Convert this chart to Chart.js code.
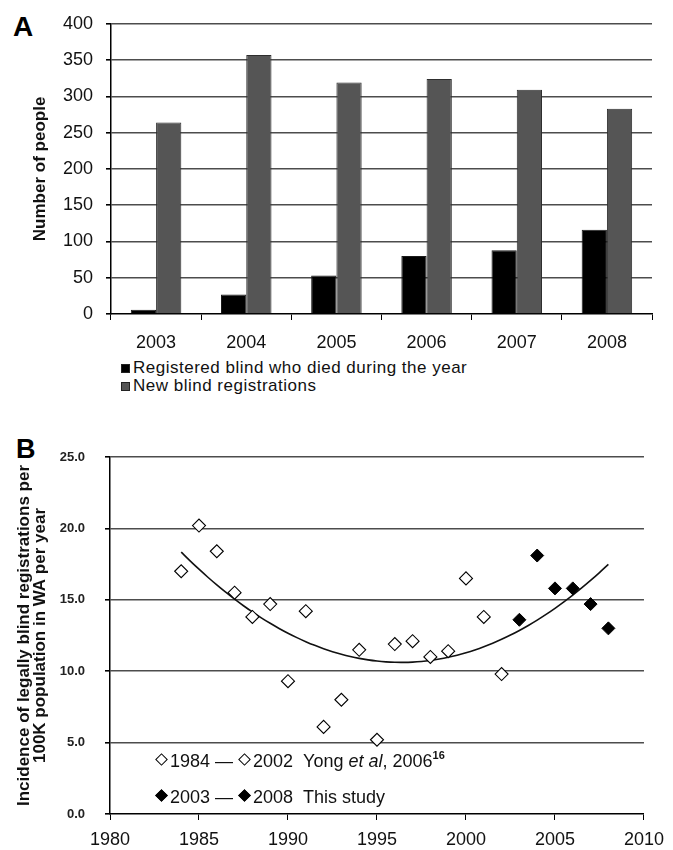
<!DOCTYPE html>
<html>
<head>
<meta charset="utf-8">
<script src="https://cdn.jsdelivr.net/npm/chart.js@4.4.1/dist/chart.umd.min.js"></script>
<style>
  body { margin: 0; background: #fff; width: 673px; height: 850px; position: relative; overflow: hidden;
         font-family: "Liberation Sans", Arial, sans-serif; color: #111; }
  .panel-label { position: absolute; font-weight: bold; color: #000; line-height: 1; }
  #wrapA { position: absolute; left: 0; top: 0; width: 673px; height: 355px; }
  #wrapB { position: absolute; left: 0; top: 420px; width: 673px; height: 430px; }
  #legendA { position: absolute; left: 121px; top: 359px; font-size: 17px; letter-spacing: 0.5px; }
  #legendA .row { height: 17.6px; line-height: 17.6px; white-space: nowrap; }
  #legendA .box { display: inline-block; width: 7px; height: 7px; margin-right: 3px; border: 1px solid #222; vertical-align: baseline; }
  .legendB { position: absolute; left: 155px; font-family: "Liberation Sans", Arial, sans-serif;
             font-size: 18px; line-height: 20px; white-space: nowrap; }
  .dia { display: inline-block; width: 7px; height: 7px; border: 1px solid #000; transform: rotate(45deg);
         margin: 0 4px 0 2px; vertical-align: 3px; }
  .dia.open { background: #fff; }
  .dia.fill { background: #000; }
  .gap { display: inline-block; width: 10px; }
  .legendB sup { font-size: 11px; font-weight: bold; vertical-align: 8px; line-height: 0; }
</style>
</head>
<body>
<div class="panel-label" style="left:13px; top:13px; font-size:28px;">A</div>
<div class="panel-label" style="left:16px; top:436px; font-size:27px;">B</div>

<div id="wrapA"><canvas id="chartA" width="673" height="355"></canvas></div>
<div id="legendA"></div>

<div id="wrapB"><canvas id="chartB" width="673" height="430"></canvas></div>
<div class="legendB" style="top:751px;">
  <span class="dia open"></span>1984 — <span class="dia open"></span>2002<span class="gap"></span>Yong <i>et al</i>, 2006<sup>16</sup>
</div>
<div class="legendB" style="top:787px;">
  <span class="dia fill"></span>2003 — <span class="dia fill"></span>2008<span class="gap"></span>This study
</div>

<script>
// ---- Panel A data ----
const years = ["2003", "2004", "2005", "2006", "2007", "2008"];
const diedBlind = [6, 27, 53, 80, 88, 116];
const newRegistrations = [264, 357, 319, 324, 309, 283];

// ---- Panel B data ----
const yongYears = [1984, 1985, 1986, 1987, 1988, 1989, 1990, 1991, 1992, 1993,
                   1994, 1995, 1996, 1997, 1998, 1999, 2000, 2001, 2002];
const yongRates = [17.0, 20.2, 18.4, 15.5, 13.8, 14.7, 9.3, 14.2, 6.1, 8.0,
                   11.5, 5.2, 11.9, 12.1, 11.0, 11.4, 16.5, 13.8, 9.8];
const studyYears = [2003, 2004, 2005, 2006, 2007, 2008];
const studyRates = [13.6, 18.1, 15.8, 15.8, 14.7, 13.0];

const SANS = "'Liberation Sans', Arial, sans-serif";
const gridGray = "#4d4d4d";

// hide the grey gridline at zero, the black axis sits there
function gridColor(ctx) {
    return ctx.tick && ctx.tick.value === 0 ? "rgba(0,0,0,0)" : gridGray;
}

// Excel style 2nd order polynomial trendline (least squares on all points)
function quadFit(xs, ys) {
    const x0 = 1996;
    let s = [0, 0, 0, 0, 0], t = [0, 0, 0];
    xs.forEach((x, i) => {
        const u = x - x0;
        for (let k = 0; k < 5; k++) s[k] += Math.pow(u, k);
        for (let k = 0; k < 3; k++) t[k] += ys[i] * Math.pow(u, k);
    });
    // solve 3x3 normal equations
    const m = [[s[0], s[1], s[2], t[0]], [s[1], s[2], s[3], t[1]], [s[2], s[3], s[4], t[2]]];
    for (let c = 0; c < 3; c++) {
        for (let r = c + 1; r < 3; r++) {
            const f = m[r][c] / m[c][c];
            for (let k = c; k < 4; k++) m[r][k] -= f * m[c][k];
        }
    }
    const coef = [0, 0, 0];
    for (let r = 2; r >= 0; r--) {
        let v = m[r][3];
        for (let k = r + 1; k < 3; k++) v -= m[r][k] * coef[k];
        coef[r] = v / m[r][r];
    }
    return x => coef[0] + coef[1] * (x - x0) + coef[2] * (x - x0) * (x - x0);
}

// ---------- Chart A ----------
const chartA = new Chart(document.getElementById("chartA"), {
    type: "bar",
    data: {
        labels: years,
        datasets: [
            { label: "Registered blind who died during the year", data: diedBlind,
              backgroundColor: "#000000", borderColor: "#1a1a1a", borderWidth: 1 },
            { label: "New blind registrations", data: newRegistrations,
              backgroundColor: "#555555", borderColor: "#2e2e2e", borderWidth: 1 }
        ]
    },
    options: {
        responsive: false,
        animation: false,
        layout: { padding: { top: 23, right: 21, bottom: 0, left: 0 } },
        datasets: { bar: { categoryPercentage: 0.56, barPercentage: 1.0 } },
        plugins: { legend: { display: false }, tooltip: { enabled: false } },
        scales: {
            x: {
                grid: { drawOnChartArea: false, drawTicks: true, tickLength: 6, tickColor: "#000" },
                border: { color: "#000", width: 1.5 },
                ticks: { color: "#111", padding: 12, font: { family: SANS, size: 18 } },
                afterFit: s => { s.height = 41; }
            },
            y: {
                min: 0, max: 400,
                ticks: { stepSize: 50, color: "#111", padding: 13, font: { family: SANS, size: 18 } },
                grid: { color: gridColor, lineWidth: 1.6, tickLength: 5, tickColor: "#000" },
                border: { color: "#000", width: 1.5 },
                title: { display: true, text: "Number of people", color: "#111",
                         padding: { top: 30, bottom: 0 },
                         font: { family: SANS, size: 17, weight: "bold", lineHeight: 1.2 } },
                afterFit: s => { s.width = 111; }
            }
        }
    }
});

// HTML legend for panel A, stacked in two rows like the original
const legendA = document.getElementById("legendA");
chartA.data.datasets.forEach(ds => {
    const row = document.createElement("div");
    row.className = "row";
    const box = document.createElement("span");
    box.className = "box";
    box.style.background = ds.backgroundColor;
    row.appendChild(box);
    row.appendChild(document.createTextNode(ds.label));
    legendA.appendChild(row);
});

// ---------- Chart B ----------
const trend = quadFit(yongYears.concat(studyYears), yongRates.concat(studyRates));
const trendPts = [];
for (let x = yongYears[0]; x <= studyYears[studyYears.length - 1] + 1e-9; x += 0.5) {
    trendPts.push({ x: x, y: trend(x) });
}

new Chart(document.getElementById("chartB"), {
    type: "scatter",
    data: {
        datasets: [
            { label: "1984 - 2002 Yong et al, 2006", order: 1,
              data: yongYears.map((y, i) => ({ x: y, y: yongRates[i] })),
              pointStyle: "rectRot", pointRadius: 6.5, backgroundColor: "#fff",
              borderColor: "#000", borderWidth: 1.1 },
            { label: "2003 - 2008 This study", order: 0,
              data: studyYears.map((y, i) => ({ x: y, y: studyRates[i] })),
              pointStyle: "rectRot", pointRadius: 6.5, backgroundColor: "#000",
              borderColor: "#000", borderWidth: 1 },
            { label: "Trend", order: 2, data: trendPts, showLine: true, pointRadius: 0,
              borderColor: "#111", borderWidth: 1.6, tension: 0.3, fill: false }
        ]
    },
    options: {
        responsive: false,
        animation: false,
        layout: { padding: { top: 37, right: 23, bottom: 0, left: 0 } },
        plugins: { legend: { display: false }, tooltip: { enabled: false } },
        scales: {
            x: {
                type: "linear", min: 1980, max: 2010,
                ticks: { stepSize: 5, color: "#111", padding: 9, callback: v => String(v),
                         font: { family: SANS, size: 18 } },
                grid: { drawOnChartArea: false, drawTicks: true, tickLength: 6, tickColor: "#000" },
                border: { color: "#000", width: 1.5 },
                afterFit: s => { s.height = 36; }
            },
            y: {
                min: 0, max: 25,
                ticks: { stepSize: 5, color: "#222", padding: 20, callback: v => v.toFixed(1),
                         font: { family: SANS, size: 13, weight: "bold" } },
                grid: { color: gridColor, lineWidth: 1.6, tickLength: 5, tickColor: "#000" },
                border: { color: "#000", width: 1.5 },
                title: { display: true, color: "#111",
                         text: ["Incidence of legally blind registrations per", "100K population in WA per year"],
                         padding: { top: 16, bottom: 0 },
                         font: { family: SANS, size: 17, weight: "bold", lineHeight: 0.95 } },
                afterFit: s => { s.width = 110; }
            }
        }
    }
});
</script>
</body>
</html>
